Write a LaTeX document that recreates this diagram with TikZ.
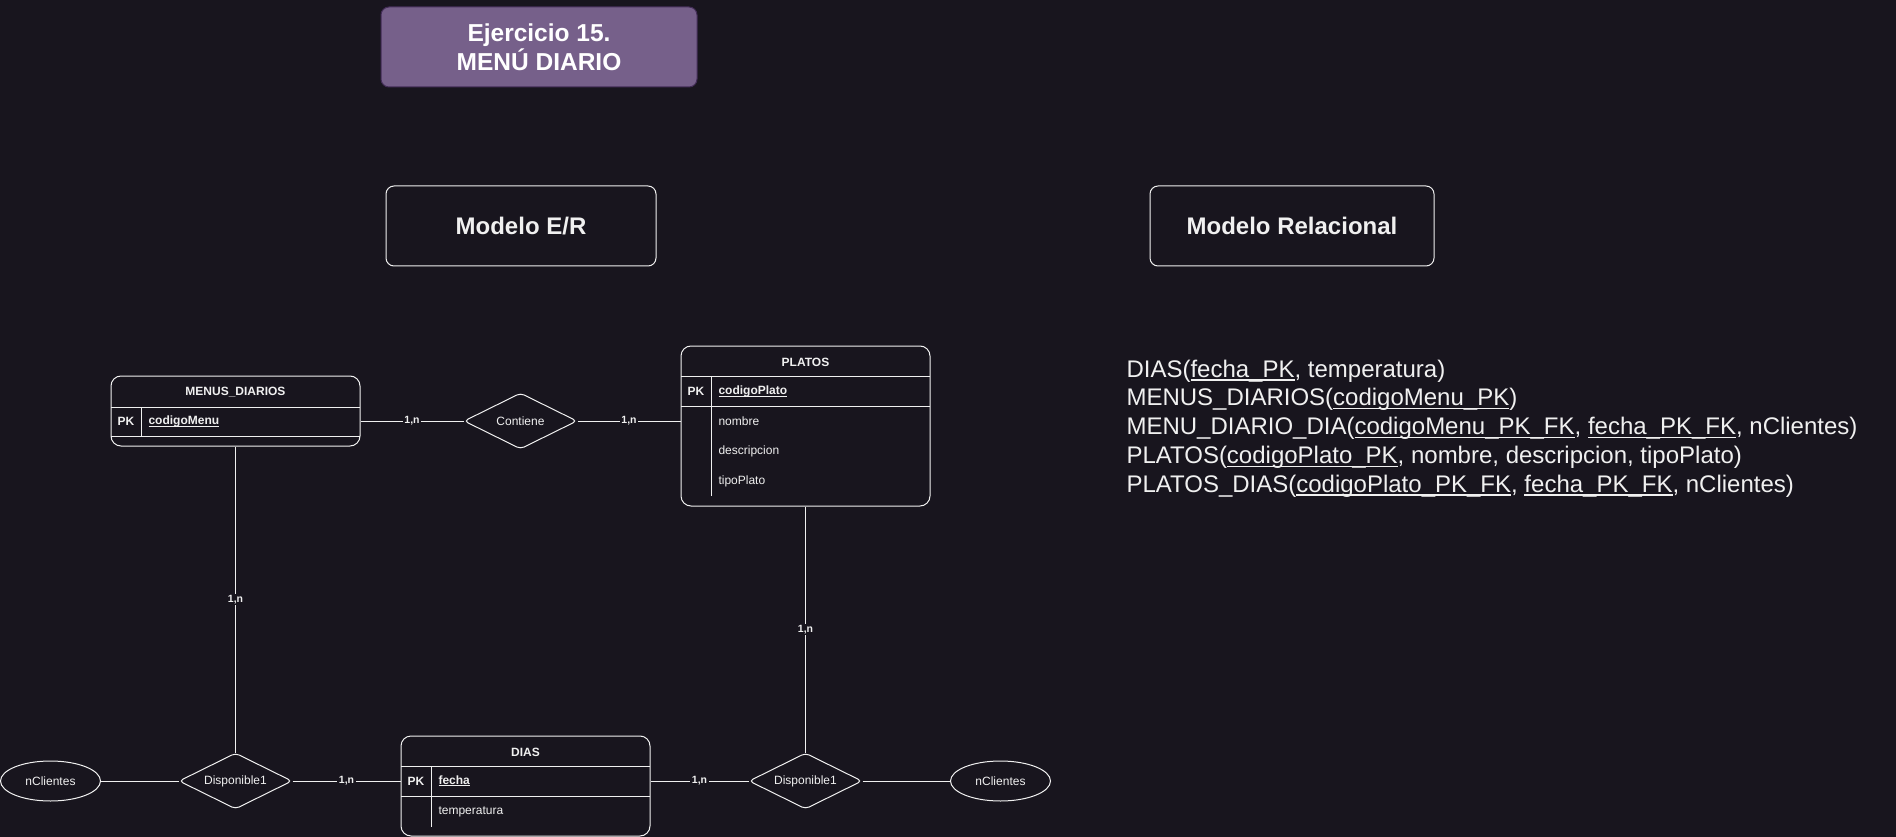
\documentclass[tikz,border=0pt]{standalone}
\usepackage{fontspec}
\setmainfont{Liberation Sans}
\usetikzlibrary{shapes.geometric}
\definecolor{bg}{HTML}{18151E}
\definecolor{fg}{HTML}{F0F0F0}
\definecolor{purplefill}{HTML}{76608A}
\definecolor{purpleline}{HTML}{432D57}
\newcommand\fsz[1]{\fontsize{#1}{#1}\selectfont}
\newcommand\erul[1]{\setbox0\hbox{#1}\rlap{\rule[-2.2pt]{\wd0}{1pt}}\box0}
\newcommand\relul[1]{\setbox0\hbox{#1}\rlap{\rule[-3.6pt]{\wd0}{1.3pt}}\box0}
\begin{document}
\begin{tikzpicture}[x=1pt,y=-1pt,line width=1pt,
  every node/.style={text=fg},
  tbl/.style={draw=fg,rounded corners=10pt,inner sep=0pt,minimum width=249pt},
  sep/.style={draw=fg,line width=1pt},
  hdr/.style={font=\fsz{12}\bfseries,inner sep=0pt},
  attr/.style={font=\fsz{12},anchor=west,inner sep=0pt},
  keyattr/.style={font=\fsz{12}\bfseries,anchor=west,inner sep=0pt},
  relship/.style={draw=fg,diamond,aspect=2,minimum width=113pt,minimum height=56pt,inner sep=0pt,rounded corners=4pt,font=\fsz{12}},
  attrib/.style={draw=fg,ellipse,minimum width=100pt,minimum height=40pt,inner sep=0pt,font=\fsz{12}},
  card/.style={fill=bg,font=\fsz{10.5}\bfseries,inner sep=1.5pt},
  conn/.style={draw=fg,line width=1pt},
  heading/.style={draw=fg,rounded corners=8pt,minimum height=80pt,inner sep=0pt,font=\fsz{24}\bfseries},
  reltext/.style={anchor=base west,inner sep=0pt,font=\fsz{24}}]
\useasboundingbox (0,0) rectangle (1896,837);
\fill[bg] (0,0) rectangle (1896,837);

% title
\node[draw=purpleline,fill=purplefill,rounded corners=8pt,minimum width=316pt,minimum height=80pt,
  inner sep=0pt,align=center,text=white,font=\fontsize{24.5}{29}\selectfont\bfseries] (title) at (539,47)
  {Ejercicio 15.\\MENÚ DIARIO};

\node[heading,minimum width=270pt] (mer) at (521,226) {Modelo E/R};
\node[heading,minimum width=284pt] (mrel) at (1292,226) {Modelo Relacional};

% MENUS_DIARIOS
\node[tbl,minimum height=70pt] (md) at (235.5,411) {};
\draw[sep] (111,407) -- (360,407);
\draw[sep] (111,436) -- (360,436);
\draw[sep] (141,407) -- (141,436);
\node[hdr] (mdh) at (235.5,392) {MENUS\_DIARIOS};
\node[hdr] (mdpk) at (126,421.5) {PK};
\node[keyattr] (mdk) at (148,421.5) {\erul{codigoMenu}};

% PLATOS
\node[tbl,minimum height=160pt] (pl) at (805.5,426) {};
\draw[sep] (681,376) -- (930,376);
\draw[sep] (681,406) -- (930,406);
\draw[sep] (711,376) -- (711,496);
\node[hdr] (plh) at (805.5,362) {PLATOS};
\node[hdr] (plpk) at (696,391.5) {PK};
\node[keyattr] (plk) at (718,391.5) {\erul{codigoPlato}};
\node[attr] (pl1) at (718,421.5) {nombre};
\node[attr] (pl2) at (718,451.5) {descripcion};
\node[attr] (pl3) at (718,481.5) {tipoPlato};

% DIAS
\node[tbl,minimum height=100pt] (di) at (525.5,786) {};
\draw[sep] (401,766) -- (650,766);
\draw[sep] (401,796) -- (650,796);
\draw[sep] (431,766) -- (431,827);
\node[hdr] (dih) at (525.5,752) {DIAS};
\node[hdr] (dipk) at (416,781) {PK};
\node[keyattr] (dik) at (438,781) {\erul{fecha}};
\node[attr] (di1) at (438,811.5) {temperatura};

% relationships and attributes
\node[relship] (cont) at (520.5,421) {Contiene};
\node[relship] (dl) at (235.5,781) {Disponible1};
\node[relship] (dr) at (805.5,781) {Disponible1};
\node[attrib] (ncl) at (50.5,781) {nClientes};
\node[attrib] (ncr) at (1000.5,781) {nClientes};

% connectors
\draw[conn] (md.east |- cont) -- node[card] {1,n} (cont.west);
\draw[conn] (cont.east) -- node[card] {1,n} (cont -| pl.west);
\draw[conn] (md.south) -- node[card] {1,n} (dl.north);
\draw[conn] (pl.south) -- node[card] {1,n} (dr.north);
\draw[conn] (ncl.east) -- (dl.west);
\draw[conn] (dl.east) -- node[card] {1,n} (dl -| di.west);
\draw[conn] (di.east |- dr) -- node[card] {1,n} (dr.west);
\draw[conn] (dr.east) -- (ncr.west);

% relational model
\node[reltext] (r1) at (1126,377) {DIAS(\relul{fecha\_PK}, temperatura)};
\node[reltext] (r2) at (1126,405.75) {MENUS\_DIARIOS(\relul{codigoMenu\_PK})};
\node[reltext] (r3) at (1126,434.5) {MENU\_DIARIO\_DIA(\relul{codigoMenu\_PK\_FK}, \relul{fecha\_PK\_FK}, nClientes)};
\node[reltext] (r4) at (1126,463.25) {PLATOS(\relul{codigoPlato\_PK}, nombre, descripcion, tipoPlato)};
\node[reltext] (r5) at (1126,492) {PLATOS\_DIAS(\relul{codigoPlato\_PK\_FK}, \relul{fecha\_PK\_FK}, nClientes)};
\end{tikzpicture}
\end{document}
